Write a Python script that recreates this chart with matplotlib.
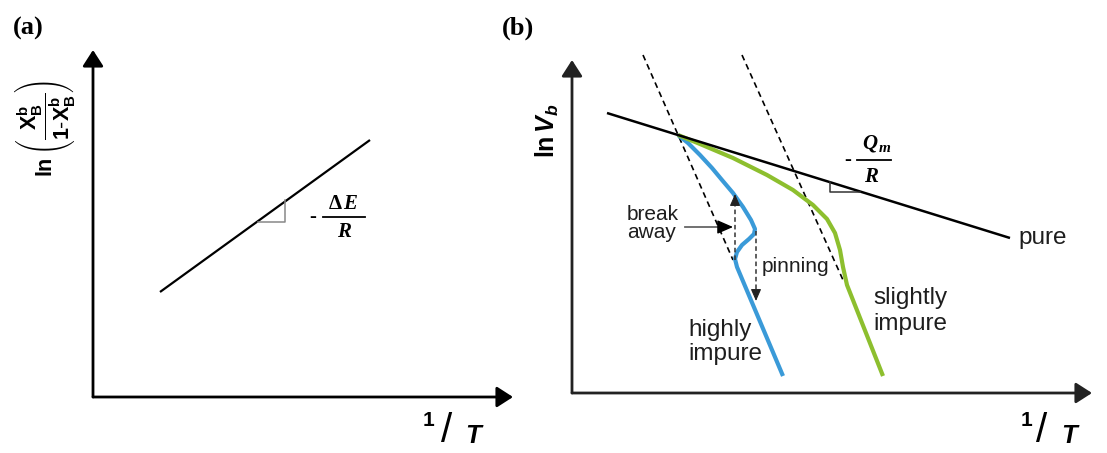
import matplotlib
matplotlib.use("Agg")
import matplotlib.pyplot as plt
from matplotlib.patches import ArrowStyle

plt.rcParams['mathtext.fontset'] = 'custom'
plt.rcParams['mathtext.rm'] = 'Liberation Sans'
plt.rcParams['mathtext.sf'] = 'Liberation Sans'
plt.rcParams['mathtext.bf'] = 'Liberation Sans:bold'
plt.rcParams['mathtext.it'] = 'Liberation Sans:style=italic:weight=bold'

W, H = 1107, 453

# ---------------- schematic data (picture units) ----------------
# panel (a)
a_yaxis_x = [93, 93];   a_yaxis_y = [397, 50]
a_xaxis_x = [93, 513];  a_xaxis_y = [397, 397]
a_line_x = [160, 370];  a_line_y = [292, 140]
a_tri_x = [258, 285, 285]; a_tri_y = [222, 222, 200]

# panel (b)
b_yaxis_x = [572, 572];   b_yaxis_y = [393, 60]
b_xaxis_x = [572, 1092];  b_xaxis_y = [393, 393]
pure_x = [607, 1010]; pure_y = [113, 238]
dash1_x = [643, 733]; dash1_y = [55, 260]
dash2_x = [742, 843]; dash2_y = [55, 280]
blue_x = [678, 688, 700, 712, 722, 733, 743, 751, 755, 754, 749, 742, 737, 735, 737, 783]
blue_y = [135, 143, 155, 168, 180, 193, 207, 220, 229, 234, 239, 245, 252, 259, 267, 376]
green_x = [678, 700, 733, 767, 793, 813, 827, 835, 840, 843, 847, 883]
green_y = [135, 144, 158, 175, 190, 205, 219, 233, 250, 267, 285, 376]
b_tri_x = [830, 830, 860]; b_tri_y = [182, 192, 192]
breakaway_arrow = [(685, 227), (733, 227)]
up_arrow = [(735, 260), (735, 194)]
down_arrow = [(756, 231), (756, 301)]

blue_c = '#3a9ad8'
green_c = '#8dbf2e'
txt_c = '#1e1e1e'

fig = plt.figure(figsize=(W / 100, H / 100), dpi=100)
ax = fig.add_axes([0, 0, 1, 1])
ax.set_xlim(0, W)
ax.set_ylim(H, 0)
ax.axis('off')

head = ArrowStyle('-|>', head_length=0.7, head_width=0.45)
small_head = ArrowStyle('-|>', head_length=0.8, head_width=0.35)


def axis_arrow(xs, ys, color='k'):
    ax.annotate('', xy=(xs[1], ys[1]), xytext=(xs[0], ys[0]),
                arrowprops=dict(arrowstyle=head, color=color, lw=2.0,
                                mutation_scale=14, shrinkA=0, shrinkB=0))


# ---- panel (a) ----
axis_arrow(a_yaxis_x, a_yaxis_y)
axis_arrow(a_xaxis_x, a_xaxis_y)
ax.plot(a_line_x, a_line_y, color='k', lw=1.6, solid_capstyle='butt')
ax.plot(a_tri_x, a_tri_y, color='#888888', lw=1.1)

ax.text(13, 28, '(a)', fontsize=19, fontweight='bold', family='Liberation Serif',
        ha='left', va='center', color='k')
ax.text(45, 128, r'$\mathbf{ln}\,\left(\dfrac{\mathbf{X}_{\mathbf{B}}^{\mathbf{b}}}{\mathbf{1\text{-}X}_{\mathbf{B}}^{\mathbf{b}}}\right)$',
        fontsize=15.5, rotation=90, ha='center', va='center', color='k')
# -dE/R
ax.text(313, 217, '-', fontsize=15, fontweight='bold', family='Liberation Serif',
        ha='center', va='center', color='k')
ax.plot([323, 365], [217, 217], color='k', lw=1.3)
ax.text(335, 204, 'Δ', fontsize=15, fontweight='bold',
        family='Liberation Serif', ha='center', va='center', color='k')
ax.text(350, 204, 'E', fontsize=15, fontweight='bold', style='italic',
        family='Liberation Serif', ha='center', va='center', color='k')
ax.text(344, 232, 'R', fontsize=15, fontweight='bold', style='italic',
        family='Liberation Serif', ha='center', va='center', color='k')
# 1/T
def one_over_t(x1, xs, xt):
    ax.text(x1, 421, '1', fontsize=15, fontweight='bold', family='Liberation Sans',
            ha='center', va='center', color='k')
    ax.text(xs, 431, '/', fontsize=29, family='Liberation Sans',
            ha='center', va='center', color='k')
    ax.text(xt, 436, 'T', fontsize=18.5, fontweight='bold', style='italic',
            family='Liberation Sans', ha='center', va='center', color='k')

one_over_t(429, 447, 473)
one_over_t(1026, 1042, 1069)

# ---- panel (b) ----
axis_arrow(b_yaxis_x, b_yaxis_y, color='#222222')
axis_arrow(b_xaxis_x, b_xaxis_y, color='#222222')
ax.text(502, 28, '(b)', fontsize=19, fontweight='bold', family='Liberation Serif',
        ha='left', va='center', color='k')
ax.text(547, 131, r'$\mathbf{ln}\,V_{b}$', fontsize=18, rotation=90,
        ha='center', va='center', color='k')

ax.plot(dash1_x, dash1_y, color='k', lw=1.2, ls=(0, (3.5, 2.5)))
ax.plot(dash2_x, dash2_y, color='k', lw=1.2, ls=(0, (3.5, 2.5)))
ax.plot(blue_x, blue_y, color=blue_c, lw=3.0, solid_joinstyle='round', solid_capstyle='butt')
ax.plot(green_x, green_y, color=green_c, lw=3.0, solid_joinstyle='round', solid_capstyle='butt')
ax.plot(pure_x, pure_y, color='k', lw=1.8, solid_capstyle='butt')
ax.plot(b_tri_x, b_tri_y, color='#333333', lw=1.1)

# -Qm/R
ax.text(848, 160, '-', fontsize=15, fontweight='bold', family='Liberation Serif',
        ha='center', va='center', color='k')
ax.plot([857, 891], [160, 160], color='k', lw=1.3)
ax.text(870, 144, 'Q', fontsize=15, fontweight='bold', style='italic',
        family='Liberation Serif', ha='center', va='center', color='k')
ax.text(885, 149, 'm', fontsize=11, fontweight='bold', style='italic',
        family='Liberation Serif', ha='center', va='center', color='k')
ax.text(871, 177, 'R', fontsize=15, fontweight='bold', style='italic',
        family='Liberation Serif', ha='center', va='center', color='k')

# arrows
(x0, y0), (x1, y1) = breakaway_arrow
ax.plot([x0, x1 - 8], [y0, y1], color='#666666', lw=1.3)
ax.annotate('', xy=(x1, y1), xytext=(x1 - 9, y1),
            arrowprops=dict(arrowstyle=small_head, color='k', lw=1.0,
                            mutation_scale=12, shrinkA=0, shrinkB=0))
for (sx, sy), (ex, ey) in (up_arrow, down_arrow):
    d = 1 if ey > sy else -1
    ax.plot([sx, ex], [sy, ey - d * 6], color='#333333', lw=1.1, ls=(0, (3, 2)))
    ax.annotate('', xy=(ex, ey), xytext=(ex, ey - d * 7),
                arrowprops=dict(arrowstyle=small_head, color='#222222', lw=0.8,
                                mutation_scale=9, shrinkA=0, shrinkB=0))

# labels
fs_big = 17.5
fs_small = 15
def lab(x, y, s, fs):
    ax.text(x, y, s, fontsize=fs, family='Liberation Sans', ha='left',
            va='center', color=txt_c)

lab(1018, 238, 'pure', fs_big)
lab(873, 298, 'slightly', fs_big)
lab(873, 324, 'impure', fs_big)
lab(688, 330, 'highly', fs_big)
lab(688, 354, 'impure', fs_big)
lab(627, 215, 'break', fs_small)
lab(627, 233, 'away', fs_small)
lab(762, 267, 'pinning', fs_small)

fig.savefig('out.png', dpi=100)
